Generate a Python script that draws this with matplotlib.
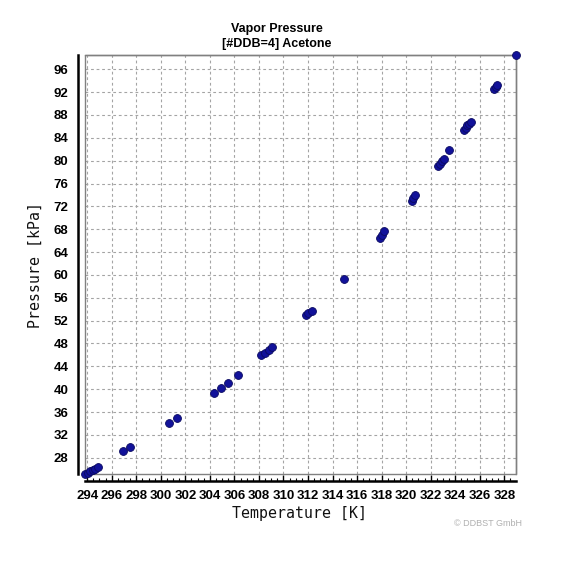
import matplotlib
matplotlib.use('Agg')
import matplotlib.pyplot as plt
from matplotlib.patches import Rectangle
from matplotlib.ticker import MultipleLocator, FixedLocator

title_lines = ["Vapor Pressure", "[#DDB=4] Acetone"]
x_label = "Temperature [K]"
y_label = "Pressure [kPa]"
watermark = "\u00a9 DDBST GmbH"

temperature_K = [293.82, 294.05, 294.25, 294.45, 294.65, 294.85,
                 296.9, 297.5,
                 300.7, 301.3,
                 304.34, 304.88, 305.48, 306.27,
                 308.2, 308.5, 308.8, 309.05,
                 311.8, 312.0, 312.3,
                 314.94,
                 317.9, 318.05, 318.2,
                 320.45, 320.6, 320.75,
                 322.6, 322.75, 322.9, 323.05,
                 323.5,
                 324.7, 324.85, 325.0, 325.15, 325.3,
                 327.15, 327.3, 327.45,
                 328.96]
pressure_kPa = [25.1, 25.4, 25.7, 25.9, 26.1, 26.35,
                29.1, 29.8,
                34.0, 34.9,
                39.4, 40.15, 41.13, 42.43,
                46.0, 46.4, 46.9, 47.35,
                53.0, 53.3, 53.7,
                59.3,
                66.4, 67.0, 67.7,
                73.0, 73.5, 74.0,
                79.0, 79.5, 80.0, 80.3,
                81.9,
                85.4, 85.8, 86.2, 86.5, 86.7,
                92.6, 92.9, 93.3,
                98.5]

x_ticks = list(range(294, 329, 2))
y_ticks = list(range(28, 97, 4))

fig = plt.figure(figsize=(5.76, 5.72), dpi=100)
ax = fig.add_axes([85/576, 1 - 474.3/572, (516-85)/576, (474.3-55)/572])

ax.scatter(temperature_K, pressure_kPa, s=32, c='#12129a', edgecolors='#0a0a60',
           linewidths=0.6, clip_on=False, zorder=5)
ax.set_xlim(min(temperature_K), max(temperature_K))
ax.set_ylim(min(pressure_kPa), max(pressure_kPa))

ax.xaxis.set_major_locator(FixedLocator(x_ticks))
ax.yaxis.set_major_locator(FixedLocator(y_ticks))
ax.xaxis.set_minor_locator(MultipleLocator(0.5))
ax.grid(True, which='major', color='#a4a4a4', linestyle=(0, (2.5, 2.5)), linewidth=0.8)
ax.set_axisbelow(True)

for s in ['top', 'right']:
    ax.spines[s].set_color('#808080')
    ax.spines[s].set_linewidth(1.0)
for s in ['left', 'bottom']:
    ax.spines[s].set_position(('outward', 5))
    ax.spines[s].set_color('black')
    ax.spines[s].set_linewidth(1.8)
ax.add_patch(Rectangle((0, 0), 1, 1, transform=ax.transAxes, fill=False,
                       edgecolor='#808080', linewidth=1.0, clip_on=False, zorder=1))

ax.tick_params(axis='x', which='major', direction='in', length=4, width=1, pad=6, color='black')
ax.tick_params(axis='x', which='minor', direction='in', length=2.5, width=0.8, color='black')
ax.tick_params(axis='y', which='both', length=0, pad=7)
ax.tick_params(axis='y', which='minor', left=False)
for lab in ax.get_xticklabels() + ax.get_yticklabels():
    lab.set_fontfamily('Liberation Sans')
    lab.set_fontweight('bold')
    lab.set_fontsize(9.5)

fig.text(277/576, 1 - 29.3/572, title_lines[0], ha='center', va='center',
         fontfamily='Liberation Sans', fontweight='bold', fontsize=9)
fig.text(277/576, 1 - 44/572, title_lines[1], ha='center', va='center',
         fontfamily='Liberation Sans', fontweight='bold', fontsize=9)

fig.text(300/576, 1 - 513.5/572, x_label, ha='center', va='center',
         fontfamily='DejaVu Sans Mono', fontsize=10.7, color='#111111')
fig.text(35/576, 1 - 265/572, y_label, ha='center', va='center', rotation=90,
         fontfamily='DejaVu Sans Mono', fontsize=10.7, color='#111111')

fig.text(522/576, 1 - 524/572, watermark, ha='right', va='center',
         fontfamily='Liberation Sans', fontsize=6.5, color='#b0b0b0')

fig.savefig('out.png', dpi=100)
